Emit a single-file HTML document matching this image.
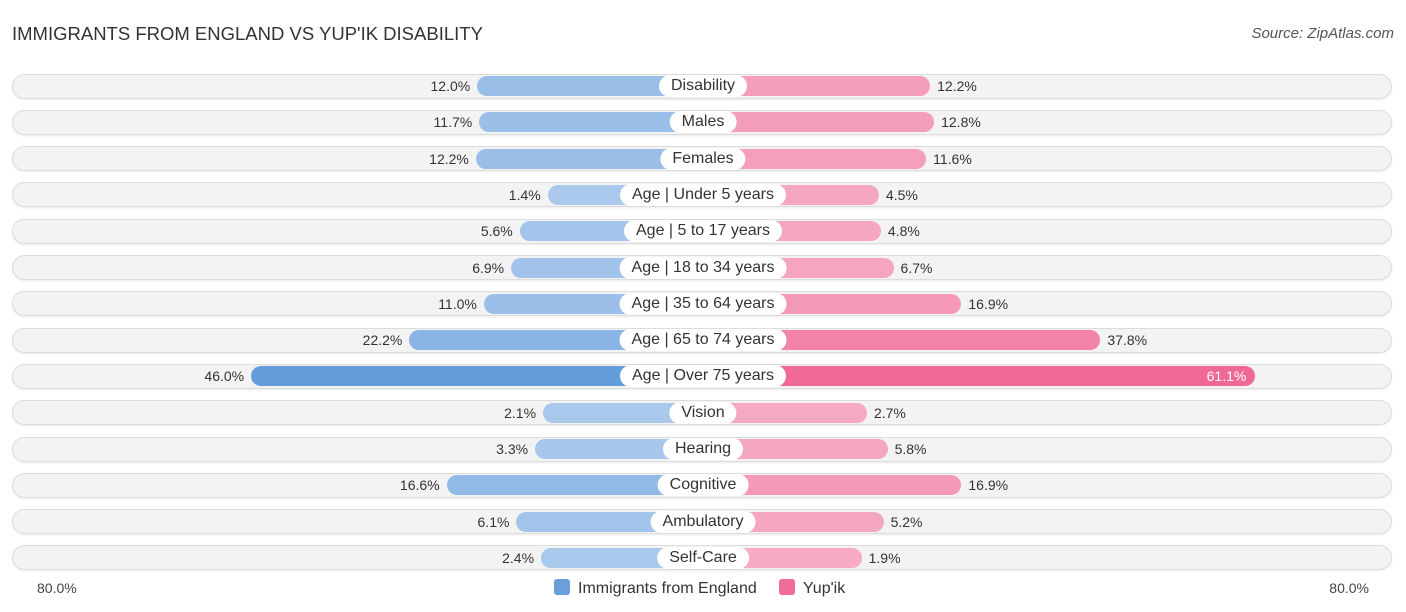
<!DOCTYPE html>
<html><head><meta charset="utf-8"><style>
body{margin:0;width:1406px;height:612px;background:#fff;font-family:"Liberation Sans",sans-serif;position:relative;overflow:hidden}
.t{position:absolute;white-space:nowrap}
.row{position:absolute;left:12px;width:1380px;height:25px;background:#f3f3f3;border:1px solid #dcdcdc;border-radius:13px;box-sizing:border-box;box-shadow:0 1px 2px rgba(0,0,0,0.08)}
.bar{position:absolute;height:20px;border-radius:10px}
.lab{position:absolute;height:22px;line-height:22px;background:#fff;border-radius:11px;padding:0 12px;font-size:16px;color:#333;transform:translateX(-50%)}
.val{position:absolute;font-size:14px;color:#333;line-height:20px}
</style></head><body>
<div class="t" style="left:12px;top:23px;font-size:18.5px;color:#333">IMMIGRANTS FROM ENGLAND VS YUP'IK DISABILITY</div>
<div class="t" style="right:12px;top:25px;font-size:15px;color:#555;font-style:italic">Source: ZipAtlas.com</div>
<div id="chart"></div>
<div class="t" style="left:37px;top:580px;font-size:14px;color:#444">80.0%</div>
<div class="t" style="right:37px;top:580px;font-size:14px;color:#444">80.0%</div>
<div class="t" style="left:554px;top:579px;font-size:16px;color:#333"><span style="display:inline-block;width:16px;height:16px;background:#6a9fdc;border-radius:3px;vertical-align:-2px;margin-right:8px"></span>Immigrants from England</div>
<div class="t" style="left:779px;top:579px;font-size:16px;color:#333"><span style="display:inline-block;width:16px;height:16px;background:#f06b96;border-radius:3px;vertical-align:-2px;margin-right:8px"></span>Yup'ik</div>
<script>
const categories=["Disability","Males","Females","Age | Under 5 years","Age | 5 to 17 years","Age | 18 to 34 years","Age | 35 to 64 years","Age | 65 to 74 years","Age | Over 75 years","Vision","Hearing","Cognitive","Ambulatory","Self-Care"];
const englandValues=[12.0,11.7,12.2,1.4,5.6,6.9,11.0,22.2,46.0,2.1,3.3,16.6,6.1,2.4];
const yupikValues=[12.2,12.8,11.6,4.5,4.8,6.7,16.9,37.8,61.1,2.7,5.8,16.9,5.2,1.9];
const cx=703,offset=146,scale=6.65,top0=86,step=36.3;
function xLen(v){return offset+v*scale;}
function yRow(i){return top0+i*step;}
function mix(a,b,t){return 'rgb('+a.map((c,k)=>Math.round(c+(b[k]-c)*t)).join(',')+')';}
const chart=document.getElementById('chart');
categories.forEach((c,i)=>{
  const y=yRow(i);
  const row=document.createElement('div');row.className='row';row.style.top=(y-12.5)+'px';
  
  
  chart.appendChild(row);
  const le=xLen(englandValues[i]);
  const b1=document.createElement('div');b1.className='bar';
  b1.style.left=(cx-le)+'px';b1.style.width=le+'px';b1.style.top=(y-10)+'px';
  b1.style.background=mix([172,202,237],[100,157,219],Math.min(1,englandValues[i]/46));
  
  
  chart.appendChild(b1);
  const ri=xLen(yupikValues[i]);
  const b2=document.createElement('div');b2.className='bar';
  b2.style.left=cx+'px';b2.style.width=ri+'px';b2.style.top=(y-10)+'px';
  b2.style.background=mix([246,172,196],[240,104,148],Math.min(1,yupikValues[i]/61.1));
  
  
  chart.appendChild(b2);
  const v1=document.createElement('div');v1.className='val';v1.textContent=englandValues[i].toFixed(1)+'%';
  v1.style.right=(1406-(cx-le)+7)+'px';v1.style.top=(y-10)+'px';
  
  
  chart.appendChild(v1);
  const v2=document.createElement('div');v2.className='val';v2.textContent=yupikValues[i].toFixed(1)+'%';
  if(yupikValues[i]>50){v2.style.right=(1406-(cx+ri)+9)+'px';v2.style.color='#fff';}
  else v2.style.left=(cx+ri+7)+'px';
  v2.style.top=(y-10)+'px';
  
  
  chart.appendChild(v2);
  const l=document.createElement('div');l.className='lab';l.textContent=c;
  l.style.left=cx+'px';l.style.top=(y-11)+'px';
  
  
  chart.appendChild(l);
});
</script>
</body></html>
